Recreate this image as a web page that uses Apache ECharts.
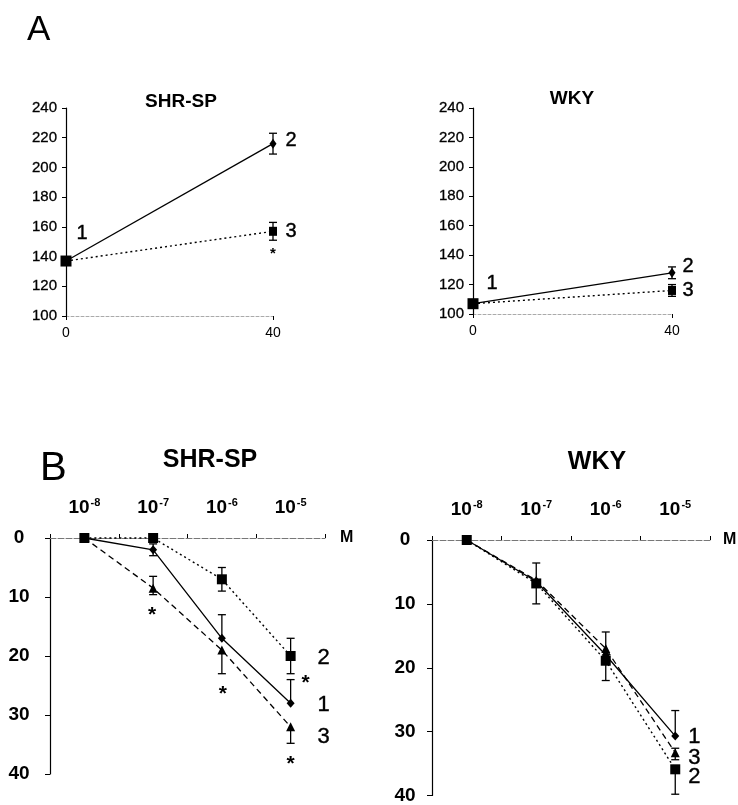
<!DOCTYPE html>
<html><head><meta charset="utf-8">
<script src="https://cdn.jsdelivr.net/npm/echarts@6/dist/echarts.min.js"></script>
<style>html,body{margin:0;padding:0;background:#fff}#c{width:738px;height:805px}</style>
</head><body><div id="c"></div>
<script>
// ---------- Panel A (x: time 0 / 40) ----------
const aX = [0, 40];
const aYTicks = [100, 120, 140, 160, 180, 200, 220, 240];
const aShr2 = [137, 216];      // curve 2, solid, diamond
const aShr2Err = [0, 7];
const aShr3 = [137, 157];      // curve 3, dotted, square
const aShr3Err = [0, 6];
const aWky2 = [107, 128];
const aWky2Err = [0, 4];
const aWky3 = [107, 116];
const aWky3Err = [0, 4];

// ---------- Panel B (x: concentration, M) ----------
const bCats = ['-8', '-7', '-6', '-5'];   // exponents of 10
const bYTicks = [0, 10, 20, 30, 40];
// SHR-SP
const bShr1 = [0, 2, 17, 28];            // curve 1, solid, diamond
const bShr1ErrLow = [0, 1, 4, 4];        // toward smaller values
const bShr1ErrHigh = [0, 1, 0, 0];       // toward larger values
const bShr2 = [0, 0, 7, 20];             // curve 2, dotted, square
const bShr2ErrLow = [0, 0, 2, 3];
const bShr2ErrHigh = [0, 0, 2, 3];
const bShr3 = [0, 8.5, 19, 32];          // curve 3, dashed, triangle
const bShr3ErrLow = [0, 2, 0, 0];
const bShr3ErrHigh = [0, 1.1, 4, 2.8];
// WKY
const bWky1 = [0, 6.5, 18, 30.7];
const bWky1ErrLow = [0, 0, 0, 4];
const bWky1ErrHigh = [0, 0, 0, 0];
const bWky2 = [0, 6.8, 18.9, 35.9];
const bWky2ErrLow = [0, 3.2, 0, 0];
const bWky2ErrHigh = [0, 3.2, 3.1, 3.9];
const bWky3 = [0, 6.3, 17, 33.3];
const bWky3ErrLow = [0, 0, 2.6, 0.7];
const bWky3ErrHigh = [0, 0, 0, 1.1];

const FONT = 'Liberation Sans';
const chart = echarts.init(document.getElementById('c'));

function errSeries(gi, xs, vals, lowE, highE) {
  const data = [];
  xs.forEach((x, i) => {
    if (lowE[i] || highE[i]) data.push([x, vals[i] - lowE[i], vals[i] + highE[i], lowE[i] ? 1 : 0, highE[i] ? 1 : 0]);
  });
  return {
    type: 'custom', xAxisIndex: gi, yAxisIndex: gi, data, z: 3, clip: false, silent: true,
    encode: { x: 0, y: [1, 2] },
    renderItem(params, api) {
      const x = api.value(0);
      const lo = api.coord([x, api.value(1)]);
      const hi = api.coord([x, api.value(2)]);
      const w = 4;
      const st = { stroke: '#000', lineWidth: 1.3 };
      const ch = [{ type: 'line', shape: { x1: lo[0], y1: lo[1], x2: hi[0], y2: hi[1] }, style: st }];
      if (api.value(3)) ch.push({ type: 'line', shape: { x1: lo[0] - w, y1: lo[1], x2: lo[0] + w, y2: lo[1] }, style: st });
      if (api.value(4)) ch.push({ type: 'line', shape: { x1: hi[0] - w, y1: hi[1], x2: hi[0] + w, y2: hi[1] }, style: st });
      return { type: 'group', children: ch };
    }
  };
}

function lineSeries(gi, xs, vals, kind, symbol, size) {
  const ls = { color: '#000', width: 1.3, type: 'solid' };
  if (kind === 'dotted') { ls.type = [2, 3]; ls.width = 1.4; }
  if (kind === 'dashed') { ls.type = [6, 4]; }
  return {
    type: 'line', xAxisIndex: gi, yAxisIndex: gi, clip: false, silent: true,
    data: xs.map((x, i) => [x, vals[i]]),
    symbol, symbolSize: size, showSymbol: true,
    itemStyle: { color: '#000' }, lineStyle: ls, z: 4, animation: false
  };
}

function note(gi, x, y, text, dx, dy, size, bold) {
  return {
    type: 'scatter', xAxisIndex: gi, yAxisIndex: gi, clip: false, silent: true,
    symbolSize: 0, data: [[x, y]], z: 6, itemStyle: { opacity: 1, color: '#000' },
    label: { show: true, position: 'inside', offset: [dx, dy], formatter: text, opacity: 1,
      fontFamily: FONT, fontSize: size, fontWeight: bold ? 'bold' : 'normal', color: '#000',
      textBorderColor: '#000', textBorderWidth: bold ? 0 : 0.4 }
  };
}

const idx = bCats.map((_, i) => i);

function aXAxis(gi) {
  return {
    gridIndex: gi, type: 'value', min: 0, max: 40, interval: 40,
    axisLine: { show: true, lineStyle: { color: '#aaa', width: 1, type: [3, 2] } },
    axisTick: { show: true, length: 4, lineStyle: { color: '#000' } },
    axisLabel: { fontFamily: FONT, fontSize: 14, color: '#000', margin: 10 },
    splitLine: { show: false }
  };
}
function aYAxis(gi) {
  return {
    gridIndex: gi, type: 'value', min: aYTicks[0], max: aYTicks[aYTicks.length - 1], interval: 20,
    axisLine: { show: true, onZero: false, lineStyle: { color: '#000', width: 1.2 } },
    axisTick: { show: true, length: 4, lineStyle: { color: '#000' } },
    axisLabel: { fontFamily: FONT, fontSize: 15, color: '#000', margin: 9, textBorderColor: '#000', textBorderWidth: 0.3 },
    splitLine: { show: false }
  };
}
function bXAxis(gi, gap) {
  return {
    gridIndex: gi, type: 'category', position: 'top', data: bCats, boundaryGap: true,
    name: 'M', nameLocation: 'end', nameGap: gap,
    nameTextStyle: { fontFamily: FONT, fontSize: 16, fontWeight: 'bold', color: '#000', padding: [0, 0, 12, 0] },
    axisLine: { show: true, lineStyle: { color: '#777', width: 1, type: [6, 2] } },
    axisTick: { show: true, length: 4, interval: 0, lineStyle: { color: '#000' } },
    axisLabel: {
      margin: 20, color: '#000', interval: 0,
      formatter: v => '{b|10}{s|' + v + '}',
      rich: {
        b: { fontFamily: FONT, fontSize: 19, fontWeight: 'bold', color: '#000' },
        s: { fontFamily: FONT, fontSize: 11, fontWeight: 'bold', color: '#000', padding: [0, 0, 10, 1] }
      }
    },
    splitLine: { show: false }
  };
}
function bYAxis(gi, margin) {
  return {
    gridIndex: gi, type: 'value', inverse: true, min: 0, max: 40, interval: 10,
    axisLine: { show: true, onZero: false, lineStyle: { color: '#000', width: 1.2 } },
    axisTick: { show: true, length: 5, lineStyle: { color: '#000' } },
    axisLabel: { fontFamily: FONT, fontSize: 19, fontWeight: 'bold', color: '#000', margin, align: 'center' },
    splitLine: { show: false }
  };
}

const series = [];
// A left (grid 0)
series.push(lineSeries(0, aX, aShr2, 'solid', 'diamond', [7, 10]));
series.push(lineSeries(0, aX, aShr3, 'dotted', 'rect', (v, p) => p.dataIndex === 0 ? 11 : [8, 9]));
series.push(errSeries(0, aX, aShr2, aShr2Err, aShr2Err));
series.push(errSeries(0, aX, aShr3, aShr3Err, aShr3Err));
series.push(note(0, aX[0], aShr2[0], '1', 16, -28, 20));
series.push(note(0, aX[1], aShr2[1], '2', 18, -3, 20));
series.push(note(0, aX[1], aShr3[1], '3', 18, 0, 20));
series.push(note(0, aX[1], aShr3[1] - aShr3Err[1], '*', 0, 14, 15, true));
// A right (grid 1)
series.push(lineSeries(1, aX, aWky2, 'solid', 'diamond', [7, 10]));
series.push(lineSeries(1, aX, aWky3, 'dotted', 'rect', (v, p) => p.dataIndex === 0 ? 11 : [8, 9]));
series.push(errSeries(1, aX, aWky2, aWky2Err, aWky2Err));
series.push(errSeries(1, aX, aWky3, aWky3Err, aWky3Err));
series.push(note(1, aX[0], aWky2[0], '1', 19, -20, 20));
series.push(note(1, aX[1], aWky2[1], '2', 16, -6, 20));
series.push(note(1, aX[1], aWky3[1], '3', 16, 0, 20));
// B left (grid 2)
series.push(lineSeries(2, idx, bShr1, 'solid', 'diamond', [8, 9]));
series.push(lineSeries(2, idx, bShr2, 'dotted', 'rect', 10));
series.push(lineSeries(2, idx, bShr3, 'dashed', 'triangle', 9));
series.push(errSeries(2, idx, bShr1, bShr1ErrLow, bShr1ErrHigh));
series.push(errSeries(2, idx, bShr2, bShr2ErrLow, bShr2ErrHigh));
series.push(errSeries(2, idx, bShr3, bShr3ErrLow, bShr3ErrHigh));
series.push(note(2, 3, bShr2[3], '2', 33, 2, 22));
series.push(note(2, 3, bShr1[3], '1', 33, 2, 22));
series.push(note(2, 3, bShr3[3], '3', 33, 10, 22));
series.push(note(2, 1, bShr3[1] + bShr3ErrHigh[1], '*', -1, 21, 21, true));
series.push(note(2, 2, bShr3[2] + bShr3ErrHigh[2], '*', 1, 21, 21, true));
series.push(note(2, 3, bShr3[3] + bShr3ErrHigh[3], '*', 0, 21, 21, true));
series.push(note(2, 3, bShr2[3] + bShr2ErrHigh[3], '*', 15, 10, 21, true));
// B right (grid 3)
series.push(lineSeries(3, idx, bWky1, 'solid', 'diamond', [8, 9]));
series.push(lineSeries(3, idx, bWky2, 'dotted', 'rect', 10));
series.push(lineSeries(3, idx, bWky3, 'dashed', 'triangle', 9));
series.push(errSeries(3, idx, bWky1, bWky1ErrLow, bWky1ErrHigh));
series.push(errSeries(3, idx, bWky2, bWky2ErrLow, bWky2ErrHigh));
series.push(errSeries(3, idx, bWky3, bWky3ErrLow, bWky3ErrHigh));
series.push(note(3, 3, bWky1[3], '1', 19, 1, 22));
series.push(note(3, 3, bWky3[3], '3', 19, 5, 22));
series.push(note(3, 3, bWky2[3], '2', 19, 8, 22));

const option = {
  backgroundColor: '#fff',
  animation: false,
  textStyle: { fontFamily: FONT },
  title: [
    { text: 'A', left: 22, top: 8, textStyle: { fontFamily: FONT, fontSize: 35, fontWeight: 'normal', color: '#000' } },
    { text: 'SHR-SP', left: 176, top: 87, textAlign: 'center', textStyle: { fontFamily: FONT, fontSize: 19, fontWeight: 'bold', color: '#000' } },
    { text: 'WKY', left: 567, top: 84, textAlign: 'center', textStyle: { fontFamily: FONT, fontSize: 19, fontWeight: 'bold', color: '#000' } },
    { text: 'B', left: 35, top: 444, textStyle: { fontFamily: FONT, fontSize: 40, fontWeight: 'normal', color: '#000' } },
    { text: 'SHR-SP', left: 205, top: 443, textAlign: 'center', textStyle: { fontFamily: FONT, fontSize: 25, fontWeight: 'bold', color: '#000' } },
    { text: 'WKY', left: 592, top: 445, textAlign: 'center', textStyle: { fontFamily: FONT, fontSize: 25, fontWeight: 'bold', color: '#000' } }
  ],
  grid: [
    { left: 66, top: 108, width: 207, height: 208 },
    { left: 473, top: 108, width: 199, height: 206 },
    { left: 50, top: 538, width: 275, height: 236 },
    { left: 432, top: 540, width: 278, height: 258 }
  ],
  xAxis: [aXAxis(0), aXAxis(1), bXAxis(2, 15), bXAxis(3, 13)],
  yAxis: [aYAxis(0), aYAxis(1), bYAxis(2, 31), bYAxis(3, 27)],
  series
};
chart.setOption(option);
</script></body></html>
